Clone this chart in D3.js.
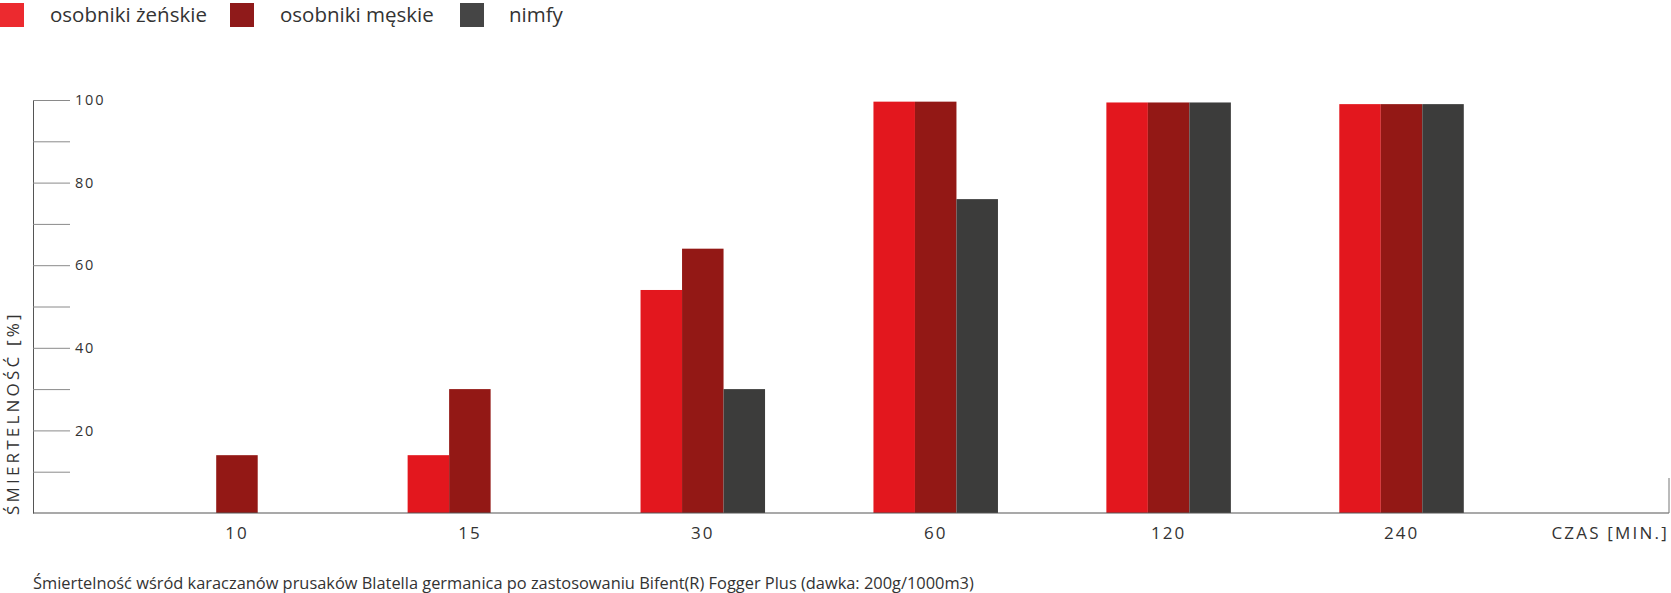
<!DOCTYPE html>
<html>
<head>
<meta charset="utf-8">
<script src="https://cdn.jsdelivr.net/npm/d3@7"></script>
<style>
  html, body { margin: 0; padding: 0; background: #fff; }
  svg { display: block; font-family: "Open Sans", "Noto Sans", sans-serif; }
</style>
</head>
<body>
<svg id="chart" width="1671" height="593"></svg>
<script>
const categories = ["10", "15", "30", "60", "120", "240"];
const seriesNames = ["osobniki żeńskie", "osobniki męskie", "nimfy"];
const females = [null, 14, 54, 99.6, 99.4, 99];
const males = [14, 30, 64, 99.6, 99.4, 99];
const nymphs = [null, null, 30, 76, 99.4, 99];
const yTicks = [0, 10, 20, 30, 40, 50, 60, 70, 80, 90, 100];
const yTickLabels = [20, 40, 60, 80, 100];
const barColors = ["#E3171E", "#931815", "#3C3C3B"];
const legendColors = ["#EC2A2F", "#8F1A1A", "#454545"];

const svg = d3.select("#chart");

const y = d3.scaleLinear().domain([0, 100]).range([513, 100]);
const x = d3.scaleBand().domain(categories).range([120.5, 1518]).padding(0);
const barW = 41.5;
const x1 = d3.scaleBand().domain(seriesNames).range([-barW * 1.5, barW * 1.5]).padding(0);

// y axis
const yAxis = d3.axisLeft(y).tickValues(yTicks).tickSizeInner(-37).tickSizeOuter(0)
  .tickFormat(d => yTickLabels.includes(d) ? d : "");
const gy = svg.append("g").attr("transform", "translate(33,0)").call(yAxis);
gy.select(".domain").attr("stroke", "#555").attr("stroke-width", 1);
gy.selectAll(".tick line").attr("stroke", d => d === 0 ? "none" : "#8a8a8a").attr("stroke-width", 1);
gy.selectAll(".tick text")
  .attr("x", 42).attr("text-anchor", "start")
  .attr("fill", "#333").style("font-size", "14.5px").style("letter-spacing", "1.8px")
  .style("font-family", "'Open Sans', sans-serif");

// bars
const data = seriesNames.map((s, i) => ({ name: s, values: [females, males, nymphs][i], color: barColors[i] }));
const groups = svg.append("g");
data.forEach(s => {
  groups.selectAll(null)
    .data(categories.map((c, j) => ({ c, v: s.values[j] })).filter(d => d.v != null))
    .enter().append("rect")
    .attr("x", d => x(d.c) + x.bandwidth() / 2 + x1(s.name))
    .attr("width", x1.bandwidth())
    .attr("y", d => y(d.v))
    .attr("height", d => y(0) - y(d.v))
    .attr("fill", s.color);
});

// x axis
const xAxis = d3.axisBottom(x).tickSize(0).tickPadding(14);
const gx = svg.append("g").attr("transform", `translate(0,${y(0)})`).call(xAxis);
gx.select(".domain").remove();
gx.selectAll(".tick text").attr("fill", "#333").style("font-size", "17px").style("letter-spacing", "2px")
  .style("font-family", "'Open Sans', sans-serif");
svg.append("line").attr("x1", 33).attr("x2", 1669).attr("y1", y(0)).attr("y2", y(0))
  .attr("stroke", "#555").attr("stroke-width", 1.2);
svg.append("line").attr("x1", 1669).attr("x2", 1669).attr("y1", y(0)).attr("y2", y(0) - 35)
  .attr("stroke", "#777").attr("stroke-width", 1);

svg.append("text").attr("x", 1669).attr("y", 539).attr("text-anchor", "end")
  .attr("fill", "#333").style("font-size", "17px").style("letter-spacing", "2.2px")
  .text("CZAS [MIN.]");

// y label
svg.append("text").attr("transform", "translate(19,515) rotate(-90)").attr("text-anchor", "start")
  .attr("fill", "#333").style("font-size", "17px").style("letter-spacing", "3.2px")
  .text("ŚMIERTELNOŚĆ [%]");

// caption
svg.append("text").attr("x", 33).attr("y", 589).attr("fill", "#333").style("font-size", "16.4px")
  .text("Śmiertelność wśród karaczanów prusaków Blatella germanica po zastosowaniu Bifent(R) Fogger Plus (dawka: 200g/1000m3)");

// legend
const legX = [0, 230, 460];
const legTX = [50, 280, 509];
const leg = svg.append("g");
seriesNames.forEach((s, i) => {
  leg.append("rect").attr("x", legX[i]).attr("y", 3).attr("width", 24).attr("height", 24).attr("fill", legendColors[i]);
  leg.append("text").attr("x", legTX[i]).attr("y", 21.5).attr("fill", "#333").style("font-size", "20.5px").text(s);
});
</script>
</body>
</html>
